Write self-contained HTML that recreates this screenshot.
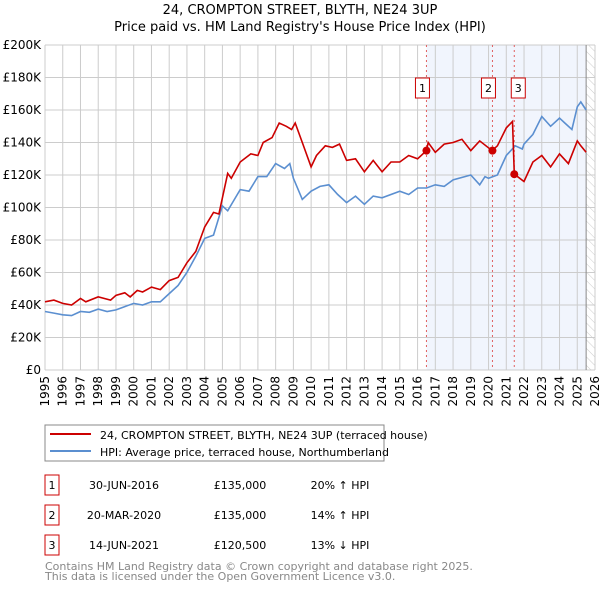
<!DOCTYPE html>
<html><head><meta charset="utf-8"><style>
body{margin:0;background:#fff;font-family:"Liberation Sans","DejaVu Sans",sans-serif}
svg{display:block}
</style></head><body>
<svg id="chart" width="600" height="590" font-family="DejaVu Sans, Liberation Sans, sans-serif">
<defs><pattern id="hatch" width="6" height="6" patternUnits="userSpaceOnUse" patternTransform="rotate(-45)"><line x1="0" y1="0" x2="0" y2="6" stroke="#ccc" stroke-width="1"/></pattern></defs>
<text x="300" y="14" text-anchor="middle" font-size="13">24, CROMPTON STREET, BLYTH, NE24 3UP</text>
<text x="300" y="31" text-anchor="middle" font-size="13">Price paid vs. HM Land Registry's House Price Index (HPI)</text>
<g id="grid"></g><g id="marks"></g><g id="axes"></g>
<rect x="45" y="425" width="339" height="36" fill="#fff" stroke="#888"/>
<line x1="50" y1="434" x2="91" y2="434" stroke="#cc0000" stroke-width="2"/>
<text x="100" y="439" font-size="11">24, CROMPTON STREET, BLYTH, NE24 3UP (terraced house)</text>
<line x1="50" y1="451" x2="91" y2="451" stroke="#5b8fd0" stroke-width="2"/>
<text x="100" y="456" font-size="11">HPI: Average price, terraced house, Northumberland</text>
<g id="table" font-size="11"></g>
<text x="45" y="570" font-size="11" fill="#888">Contains HM Land Registry data © Crown copyright and database right 2025.</text>
<text x="45" y="580" font-size="11" fill="#888">This data is licensed under the Open Government Licence v3.0.</text>
</svg>
<script>
const hpiYears=[1995,1995.5,1996,1996.5,1997,1997.5,1998,1998.5,1999,1999.5,2000,2000.5,2001,2001.5,2002,2002.5,2003,2003.5,2004,2004.5,2005,2005.3,2006,2006.5,2007,2007.5,2008,2008.5,2008.8,2009,2009.5,2010,2010.5,2011,2011.5,2012,2012.5,2013,2013.5,2014,2015,2015.5,2016,2016.5,2017,2017.5,2018,2019,2019.5,2019.8,2020,2020.5,2021,2021.5,2021.9,2022,2022.5,2023,2023.5,2024,2024.3,2024.7,2025,2025.2,2025.5];
const hpiValues=[36,35,34,33.5,36,35.5,37.5,36,37,39,41,40,42,42,47,52,60,70,81,83,101,98,111,110,119,119,127,124,127,118,105,110,113,114,108,103,107,102,107,106,110,108,112,112,114,113,117,120,114,119,118,120,132,138,136,139,145,156,150,155,152,148,162,165,160];
const priceYears=[1995,1995.5,1996,1996.5,1997,1997.3,1998,1998.7,1999,1999.5,1999.8,2000.2,2000.5,2001,2001.5,2002,2002.5,2003,2003.5,2004,2004.5,2004.8,2005.3,2005.5,2006,2006.6,2007,2007.3,2007.8,2008.2,2008.6,2008.9,2009.1,2009.5,2010,2010.3,2010.8,2011.2,2011.6,2012,2012.5,2013,2013.5,2014,2014.5,2015,2015.5,2016,2016.5,2016.6,2017,2017.5,2018,2018.5,2019,2019.5,2020.2,2020.5,2021,2021.35,2021.45,2022,2022.5,2023,2023.5,2024,2024.5,2025,2025.2,2025.5];
const priceValues=[42,43,41,40,44,42,45,43,46,47.5,45,49,48,51,49.5,55,57,66,73,88,97,96,121,118,128,133,132,140,143,152,150,148,152,140,125,132,138,137,139,129,130,122,129,122,128,128,132,130,135,140,134,139,140,142,135,141,135,138,149,153,120.5,116,128,132,125,133,127,141,138,134];
const saleYears=[2016.5,2020.22,2021.45];
const saleValues=[135,135,120.5];
const saleLabels=["1","2","3"];
const saleDates=["30-JUN-2016","20-MAR-2020","14-JUN-2021"];
const salePrices=["£135,000","£135,000","£120,500"];
const saleHpi=["20% ↑ HPI","14% ↑ HPI","13% ↓ HPI"];
const yTicks=[0,20,40,60,80,100,120,140,160,180,200];
const yTickLabels=["£0","£20K","£40K","£60K","£80K","£100K","£120K","£140K","£160K","£180K","£200K"];
const xTicks=[1995,1996,1997,1998,1999,2000,2001,2002,2003,2004,2005,2006,2007,2008,2009,2010,2011,2012,2013,2014,2015,2016,2017,2018,2019,2020,2021,2022,2023,2024,2025,2026];

const X0=45,X1=595,Y0=370,Y1=45;
const xs=y=>X0+(y-1995)/(2026-1995)*(X1-X0);
const ys=v=>Y0-v/200*(Y0-Y1);
const NS="http://www.w3.org/2000/svg";
function mk(p,t,a){const e=document.createElementNS(NS,t);for(const k in a)e.setAttribute(k,a[k]);p.appendChild(e);return e;}
const grid=document.getElementById('grid'),marks=document.getElementById('marks'),axes=document.getElementById('axes'),table=document.getElementById('table');
const shade=mk(grid,'rect',{x:xs(saleYears[0]),y:Y1,width:xs(2025.5)-xs(saleYears[0]),height:Y0-Y1,fill:'#eef3fc',opacity:0.8});


const hatch=mk(grid,'rect',{x:xs(2025.5),y:Y1,width:X1-xs(2025.5),height:Y0-Y1,fill:'url(#hatch)'});


yTicks.forEach((v,i)=>{
  mk(grid,'line',{x1:X0,x2:X1,y1:ys(v),y2:ys(v),stroke:'#ccc'});
  const t=mk(axes,'text',{x:X0-4,y:ys(v)+4,'text-anchor':'end','font-size':12});
  t.textContent=yTickLabels[i];
  
  
});
xTicks.forEach(y=>{
  mk(grid,'line',{x1:xs(y),x2:xs(y),y1:Y1,y2:Y0,stroke:'#ccc'});
  const t=mk(axes,'text',{x:0,y:0,'font-size':12,'text-anchor':'end',transform:`translate(${xs(y)+4},${Y0+6}) rotate(-90)`});
  t.textContent=y;
  
  
});
mk(grid,'line',{x1:xs(2025.5),x2:xs(2025.5),y1:Y1,y2:Y0,stroke:'#888'});
saleYears.forEach(y=>{const l=mk(grid,'line',{x1:xs(y),x2:xs(y),y1:Y1,y2:Y0,stroke:'#e06060','stroke-dasharray':'2,3'});
  
  });
const pts=(a,b)=>a.map((y,i)=>xs(y).toFixed(1)+','+ys(b[i]).toFixed(1)).join(' ');
const hl=mk(marks,'polyline',{points:pts(hpiYears,hpiValues),fill:'none',stroke:'#5b8fd0','stroke-width':1.6});


const pl=mk(marks,'polyline',{points:pts(priceYears,priceValues),fill:'none',stroke:'#cc0000','stroke-width':1.6});


const labelX=[-4,-4,4];
saleYears.forEach((y,i)=>{
  const c=mk(marks,'circle',{cx:xs(y),cy:ys(saleValues[i]),r:4,fill:'#cc0000'});
  
  
  const bx=xs(y)+labelX[i]-7;
  const r=mk(marks,'rect',{x:bx,y:78,width:14,height:20,fill:'#fff',stroke:'#cc0000'});
  
  
  const t=mk(marks,'text',{x:bx+7,y:92,'text-anchor':'middle','font-size':11});
  t.textContent=saleLabels[i];
  
  
  const ty=483+i*30;
  const tb=mk(table,'rect',{x:45,y:ty-8,width:14,height:20,fill:'#fff',stroke:'#cc0000'});
  
  
  const cols=[[52,saleLabels[i]],[124,saleDates[i]],[240,salePrices[i]],[340,saleHpi[i]]];
  cols.forEach(([x,s])=>{const e=mk(table,'text',{x:x,y:ty+6,'text-anchor':'middle'});e.textContent=s;
    
    });
});
</script>
</body></html>
